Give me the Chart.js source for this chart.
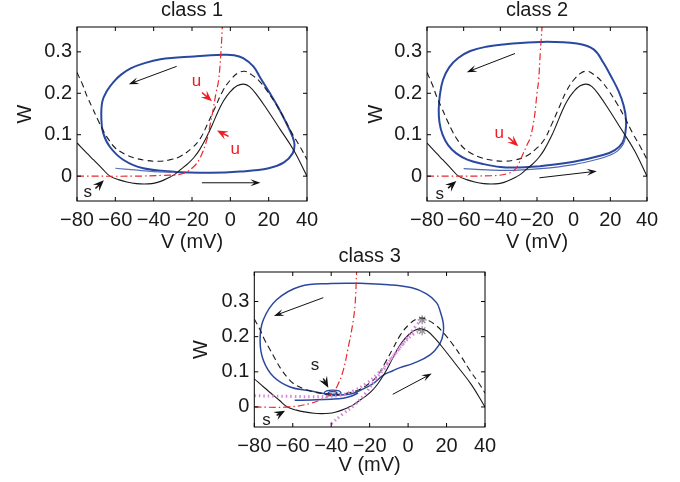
<!DOCTYPE html>
<html>
<head>
<meta charset="utf-8">
<script src="https://cdn.jsdelivr.net/npm/chart.js"></script>
<style>
  html, body { margin: 0; padding: 0; background: #fff; }
  #wrap { position: relative; width: 680px; height: 482px; overflow: hidden; }
  canvas { position: absolute; }
</style>
</head>
<body>
<div id="wrap">
  <canvas id="c1" width="327" height="256" style="left:0px;top:-2px"></canvas>
  <canvas id="c2" width="317" height="256" style="left:350px;top:-2px"></canvas>
  <canvas id="c3" width="325" height="233" style="left:180px;top:244px"></canvas>
</div>
<script>
// tick labels
const vTicks = [-80, -60, -40, -20, 0, 20, 40];
const wTicks = [0, 0.1, 0.2, 0.3];

// V-nullclines (shared by all panels): solid and dashed
const vNullSolid = [[-80,0.08],[-75,0.056],[-71.3,0.039],[-67,0.019],[-62.8,0.0],[-58,-0.009],[-54,-0.014],
  [-49,-0.018],[-45,-0.019],[-41,-0.018],[-38,-0.015],[-34.5,-0.009],[-31.4,-0.002],[-28.5,0.006],[-26.2,0.015],
  [-22,0.031],[-19,0.045],[-16,0.064],[-12.5,0.093],[-9.5,0.123],[-6.5,0.155],[-3.5,0.182],[0,0.204],[3.5,0.218],
  [7,0.222],[10,0.216],[14,0.195],[19,0.162],[26,0.113],[33,0.063],[40,0.0]];
const vNullDashed = [[-80,0.25],[-77,0.22],[-74.8,0.193],[-72,0.165],[-69,0.135],[-66,0.107],[-63,0.085],[-60,0.068],
  [-55,0.053],[-50,0.044],[-44,0.038],[-38,0.036],[-32,0.039],[-26,0.048],[-20,0.068],[-15.8,0.09],[-12,0.125],
  [-8,0.165],[-4,0.205],[0,0.232],[4,0.249],[7.5,0.253],[11,0.245],[15,0.23],[19,0.207],[23.5,0.176],[27.8,0.142],
  [32,0.105],[36.5,0.07],[40,0.04]];

// w-nullclines
const wNull1 = [[-80,0],[-50,0],[-35,0.002],[-25,0.006],[-19.3,0.022],[-15.7,0.045],[-12.3,0.087],[-10.5,0.125],
  [-9,0.16],[-7.5,0.2],[-6.1,0.232],[-4.9,0.3],[-4,0.375]];
const wNull2 = [[-80,0],[-45,0.001],[-36,0.006],[-32,0.016],[-30,0.03],[-28,0.05],[-25.5,0.075],[-23.6,0.094],
  [-21.5,0.14],[-20,0.2],[-19.1,0.232],[-18.2,0.3],[-17.3,0.357],[-17.1,0.38]];
const wNull3 = [[-80,0],[-62,0],[-51,0.01],[-44.1,0.024],[-40,0.038],[-37.1,0.057],[-33.7,0.105],[-31.1,0.171],
  [-29,0.23],[-27.6,0.29],[-26.8,0.385],[-26.7,0.4]];

// limit cycles and transients
const cycle1 = [[-28,0.01],[-45.4,0.019],[-55.7,0.039],[-62.9,0.071],[-66.4,0.105],[-67.3,0.14],[-66.8,0.18],
  [-64.5,0.205],[-61,0.227],[-57,0.245],[-52,0.26],[-46,0.271],[-36.5,0.282],[-19,0.289],[-4,0.293],
  [2,0.292],[6.7,0.285],[12,0.265],[15.7,0.237],[20,0.205],[24.5,0.17],[29,0.13],[32.5,0.095],[33.5,0.075],
  [32.5,0.055],[28,0.033],[20,0.019],[5,0.011],[-10.6,0.008],[-28,0.01]];
const start1 = [[-60,0.019],[-50,0.015],[-40,0.011],[-30,0.009]];
const cycle2 = [[-18.4,0.024],[-30,0.021],[-40,0.022],[-50,0.03],[-58,0.04],[-64,0.055],[-68.5,0.075],
  [-71.5,0.1],[-73.2,0.13],[-73.6,0.16],[-73,0.195],[-71.3,0.232],[-68,0.262],[-63,0.285],[-56.4,0.302],
  [-47,0.313],[-38.2,0.318],[-18.2,0.324],[1.8,0.32],[10.9,0.306],[16.3,0.273],[20.5,0.24],[24.5,0.205],
  [27.3,0.17],[28.6,0.135],[28.2,0.105],[26.5,0.08],[22.5,0.063],[16,0.051],[0,0.035],[-18.4,0.024]];
const start2 = [[-60,0.018],[-47,0.015],[-33,0.014],[-18,0.018],[0,0.028],[14,0.042],[20,0.051],[24,0.061],
  [27,0.077],[28.3,0.095]];
const cycle3 = [[-25,0.352],[-40,0.351],[-56.2,0.343],[-68.4,0.305],[-75.3,0.248],[-77,0.19],[-75.3,0.133],
  [-70,0.086],[-61.4,0.057],[-51,0.046],[-42,0.037],[-35,0.034],[-30,0.037],[-27,0.042],[-22,0.055],[-18,0.067],
  [-13,0.09],[-8,0.103],[-4.2,0.112],[2.7,0.124],[11.4,0.148],[16.6,0.181],[18.3,0.21],[18.3,0.238],[16.8,0.27],
  [14.8,0.297],[9.6,0.322],[2,0.339],[-10,0.348],[-25,0.352]];
const start3 = [[-59,0.019],[-50,0.02],[-40,0.022],[-33.8,0.025],[-29,0.032],[-26,0.04]];
const spiralOuter3 = [[-34.8,0.04],[-36,0.046],[-39.2,0.048],[-42.4,0.046],[-43.6,0.04],[-42.4,0.034],
  [-39.2,0.032],[-36,0.034],[-34.8,0.04]];
const spiralInner3 = [[-36.8,0.04],[-37.6,0.043],[-39.2,0.044],[-40.8,0.043],[-41.6,0.04],[-40.8,0.037],
  [-39.2,0.036],[-37.6,0.037],[-36.8,0.04]];
const manifoldA3 = [[-80,0.032],[-70,0.031],[-60,0.03],[-50,0.029],[-42,0.03],[-35.5,0.033],[-28,0.047],
  [-21.7,0.067],[-15.7,0.095],[-9.6,0.133],[-4.4,0.167],[0,0.2],[4,0.23],[7,0.25]];
const manifoldB3 = [[-40,-0.048],[-34,-0.02],[-28,0.005],[-22,0.04],[-17,0.078],[-12,0.112],[-7,0.15],
  [-2,0.183],[3,0.208],[7.3,0.218]];
const knees3 = [[7.3,0.248],[7.3,0.217]];

// annotation arrows and labels
const arrows1 = [
  {from: [-28, 0.265], to: [-53, 0.222], kind: 'line'},
  {from: [-14.8, -0.016], to: [15.7, -0.016], kind: 'line'},
  {from: [-70.4, -0.03], to: [-66, -0.01], kind: 'head', color: '#111'},
  {from: [-14.8, 0.202], to: [-9.6, 0.181], kind: 'head', color: '#ee1c24'},
  {from: [-0.9, 0.096], to: [-7, 0.11], kind: 'head', color: '#ee1c24'}
];
const labels1 = [
  {at: [-74.4, -0.04], text: 's', color: '#222'},
  {at: [-17.7, 0.228], text: 'u', color: '#ee1c24'},
  {at: [2.6, 0.064], text: 'u', color: '#ee1c24'}
];
const arrows2 = [
  {from: [-32, 0.296], to: [-58.3, 0.251], kind: 'line'},
  {from: [-18.7, -0.004], to: [12.6, 0.012], kind: 'line'},
  {from: [-68.5, -0.029], to: [-64, -0.012], kind: 'head', color: '#111'},
  {from: [-35.7, 0.094], to: [-30.2, 0.072], kind: 'head', color: '#ee1c24'}
];
const labels2 = [
  {at: [-73.1, -0.043], text: 's', color: '#222'},
  {at: [-40.6, 0.104], text: 'u', color: '#ee1c24'}
];
const arrows3 = [
  {from: [-44.1, 0.311], to: [-69.8, 0.259], kind: 'line'},
  {from: [-8, 0.036], to: [12.3, 0.095], kind: 'line'},
  {from: [-44.1, 0.081], to: [-41.5, 0.055], kind: 'head', color: '#111'},
  {from: [-68.4, -0.024], to: [-64, -0.011], kind: 'head', color: '#111'}
];
const labels3 = [
  {at: [-48.4, 0.119], text: 's', color: '#222'},
  {at: [-73.6, -0.038], text: 's', color: '#222'}
];

const FONT = 'Liberation Sans, Arial, Helvetica, sans-serif';
const BLUE = '#2b48a0';
const RED = '#e8282c';
const INK = '#1a1a1a';

function line(data, color, width, dash) {
  return {
    data: data, borderColor: color, borderWidth: width, borderDash: dash || [],
    showLine: true, pointRadius: 0, fill: false, tension: 0.4
  };
}

// matlab-like box, inward ticks, arrows and letters
function marks(arrows, labels) {
  return {
    id: 'marks',
    afterDatasetsDraw(chart) {
      const { ctx, chartArea: a, scales: { x, y } } = chart;
      ctx.save();
      ctx.strokeStyle = '#000';
      ctx.lineWidth = 1;
      ctx.setLineDash([]);
      ctx.beginPath();
      x.ticks.forEach(t => {
        const p = x.getPixelForValue(t.value);
        ctx.moveTo(p, a.bottom); ctx.lineTo(p, a.bottom - 4);
        ctx.moveTo(p, a.top); ctx.lineTo(p, a.top + 4);
      });
      y.ticks.forEach(t => {
        const p = y.getPixelForValue(t.value);
        ctx.moveTo(a.left, p); ctx.lineTo(a.left + 4, p);
        ctx.moveTo(a.right, p); ctx.lineTo(a.right - 4, p);
      });
      ctx.stroke();
      ctx.strokeRect(a.left, a.top, a.width, a.height);

      arrows.forEach(ar => {
        const x1 = x.getPixelForValue(ar.from[0]), y1 = y.getPixelForValue(ar.from[1]);
        const x2 = x.getPixelForValue(ar.to[0]), y2 = y.getPixelForValue(ar.to[1]);
        const ang = Math.atan2(y2 - y1, x2 - x1);
        const big = ar.kind === 'head';
        const L = big ? 11 : 10, H = big ? 4.5 : 3.5;
        const col = ar.color || '#111';
        ctx.save();
        ctx.strokeStyle = col; ctx.fillStyle = col; ctx.lineWidth = big ? 1.5 : 1;
        ctx.beginPath();
        ctx.moveTo(x1, y1);
        ctx.lineTo(x2 - Math.cos(ang) * L * 0.6, y2 - Math.sin(ang) * L * 0.6);
        ctx.stroke();
        ctx.translate(x2, y2);
        ctx.rotate(ang);
        ctx.beginPath();
        ctx.moveTo(0, 0);
        ctx.lineTo(-L, -H);
        ctx.lineTo(-L * 0.6, 0);
        ctx.lineTo(-L, H);
        ctx.closePath();
        ctx.fill();
        ctx.restore();
      });

      ctx.font = '17px ' + FONT;
      ctx.textAlign = 'center';
      ctx.textBaseline = 'middle';
      labels.forEach(lb => {
        ctx.fillStyle = lb.color;
        ctx.fillText(lb.text, x.getPixelForValue(lb.at[0]), y.getPixelForValue(lb.at[1]));
      });
      ctx.restore();
    }
  };
}

function makeChart(id, cfg) {
  const font = { family: FONT, size: 20, weight: 'normal' };
  return new Chart(document.getElementById(id), {
    type: 'scatter',
    data: { datasets: cfg.datasets },
    options: {
      responsive: false,
      animation: false,
      devicePixelRatio: 1,
      layout: { padding: { left: 0, right: 20, top: 0, bottom: 0 } },
      plugins: {
        legend: { display: false },
        tooltip: { enabled: false },
        title: {
          display: true, text: cfg.title, color: INK, font: font,
          padding: { top: 0, bottom: cfg.titleGap }, fullSize: false
        }
      },
      scales: {
        x: {
          type: 'linear', min: -80, max: 40,
          afterBuildTicks: s => { s.ticks = vTicks.map(v => ({ value: v })); },
          afterFit: s => { s.height = cfg.xh; },
          grid: { display: false, drawTicks: false }, border: { display: false },
          ticks: {
            autoSkip: false, maxRotation: 0, padding: 7, color: INK, font: font,
            callback: v => (v < 0 ? '\u2212' + Math.abs(v) : String(v))
          },
          title: { display: true, text: 'V (mV)', color: INK, font: font, padding: { top: 0, bottom: 0 } }
        },
        y: {
          type: 'linear', min: cfg.ymin, max: cfg.ymax,
          afterBuildTicks: s => { s.ticks = wTicks.map(v => ({ value: v })); },
          afterFit: s => { s.width = cfg.yw; },
          grid: { display: false, drawTicks: false }, border: { display: false },
          ticks: {
            padding: 5, color: INK, font: font,
            callback: v => (v === 0 ? '0' : v.toFixed(1))
          },
          title: { display: true, text: 'W', color: INK, font: font, padding: { top: cfg.ytPad, bottom: 0 } }
        }
      }
    },
    plugins: [marks(cfg.arrows, cfg.labels)]
  });
}

makeChart('c1', {
  title: 'class 1', titleGap: 5, xh: 53, yw: 77, ytPad: 13, ymin: -0.06, ymax: 0.36,
  arrows: arrows1, labels: labels1,
  datasets: [
    line(wNull1, RED, 1.2, [7, 3, 1.5, 3]),
    line(vNullDashed, INK, 1.1, [6, 4]),
    line(vNullSolid, INK, 1.1),
    line(start1, '#5d74b8', 1.2),
    line(cycle1, BLUE, 2)
  ]
});

makeChart('c2', {
  title: 'class 2', titleGap: 5, xh: 53, yw: 77, ytPad: 14, ymin: -0.06, ymax: 0.36,
  arrows: arrows2, labels: labels2,
  datasets: [
    line(wNull2, RED, 1.2, [7, 3, 1.5, 3]),
    line(vNullDashed, INK, 1.1, [6, 4]),
    line(vNullSolid, INK, 1.1),
    line(start2, '#4f67b0', 1.2),
    line(cycle2, BLUE, 2)
  ]
});

const knees = {
  data: knees3, showLine: false, pointStyle: 'star', pointRadius: 4.5,
  borderColor: '#8a8a8a', borderWidth: 1.2, backgroundColor: '#8a8a8a'
};

makeChart('c3', {
  title: 'class 3', titleGap: 4, xh: 50, yw: 74.3, ytPad: 9, ymin: -0.057, ymax: 0.384,
  arrows: arrows3, labels: labels3,
  datasets: [
    line(manifoldA3, '#d884d8', 3, [1.5, 3]),
    line(manifoldB3, '#d884d8', 3, [1.5, 3]),
    line(wNull3, RED, 1.2, [7, 3, 1.5, 3]),
    line(vNullDashed, INK, 1.1, [6, 4]),
    line(vNullSolid, INK, 1.1),
    line(start3, BLUE, 1.5),
    line(cycle3, BLUE, 1.5),
    line(spiralOuter3, BLUE, 1.3),
    line(spiralInner3, BLUE, 1.3),
    knees
  ]
});
</script>
</body>
</html>
